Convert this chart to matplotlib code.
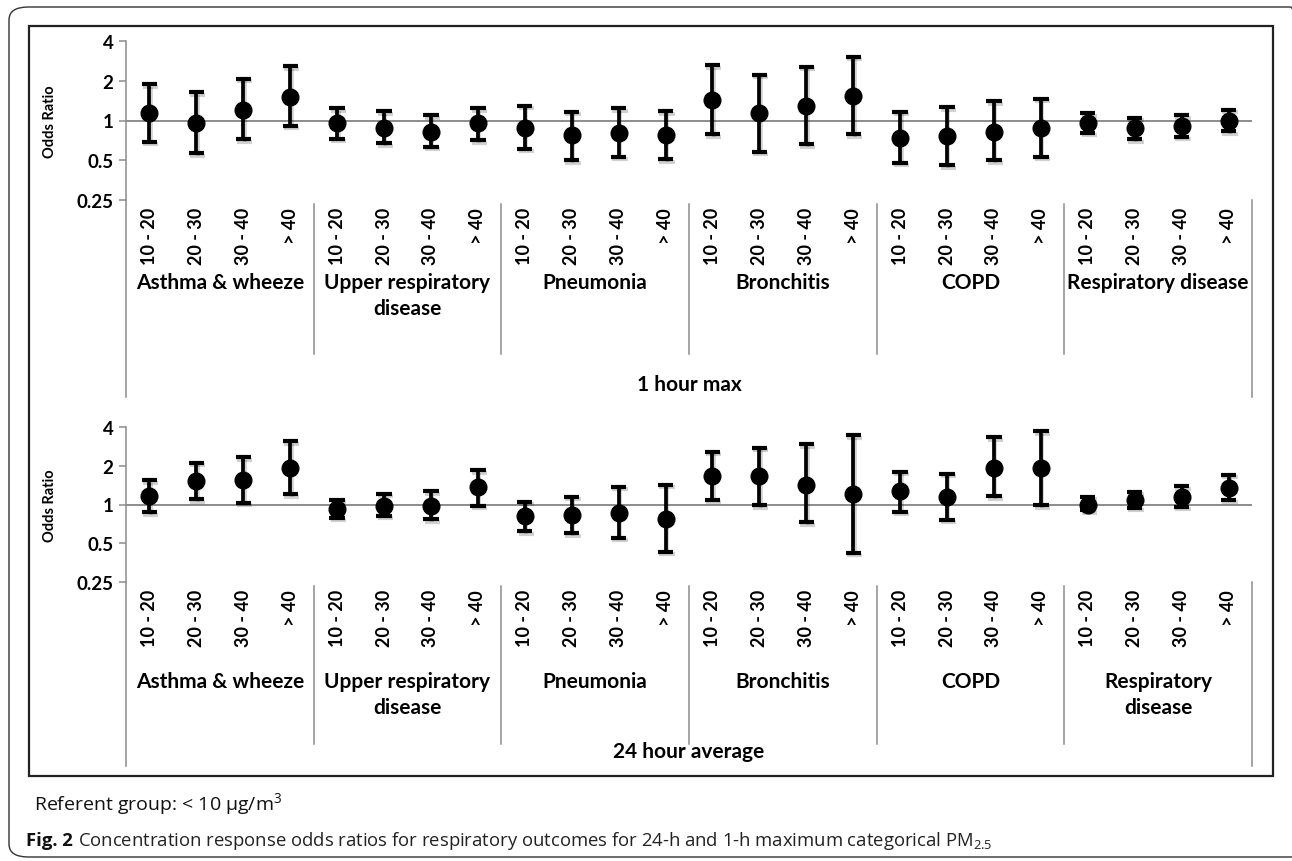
import matplotlib
matplotlib.use("Agg")
import matplotlib.pyplot as plt
import matplotlib.patheffects as pe
import numpy as np
from matplotlib.patches import Rectangle, FancyBboxPatch
from matplotlib.transforms import blended_transform_factory

# categories
outcomes = ["Asthma & wheeze", "Upper respiratory\ndisease", "Pneumonia",
            "Bronchitis", "COPD", "Respiratory disease"]
outcomes_24h = ["Asthma & wheeze", "Upper respiratory\ndisease", "Pneumonia",
                "Bronchitis", "COPD", "Respiratory\ndisease"]
bins = ["10 - 20", "20 - 30", "30 - 40", "> 40"]
yticks = [0.25, 0.5, 1, 2, 4]
ytick_labels = ["0.25", "0.5", "1", "2", "4"]

# 1 hour max: odds ratio, lower CI, upper CI (per outcome, per bin)
or_1h = [1.13, 0.96, 1.21, 1.50,  0.95, 0.88, 0.82, 0.95,  0.88, 0.77, 0.81, 0.78,
         1.42, 1.13, 1.29, 1.54,  0.74, 0.76, 0.82, 0.87,  0.96, 0.87, 0.91, 1.00]
lo_1h = [0.69, 0.565, 0.72, 0.91, 0.73, 0.67, 0.63, 0.71,  0.61, 0.50, 0.53, 0.51,
         0.79, 0.58, 0.66, 0.79,  0.48, 0.46, 0.50, 0.53,  0.81, 0.72, 0.75, 0.83]
hi_1h = [1.88, 1.63, 2.08, 2.58,  1.24, 1.17, 1.10, 1.24,  1.29, 1.16, 1.24, 1.18,
         2.61, 2.22, 2.55, 3.05,  1.16, 1.26, 1.40, 1.46,  1.13, 1.05, 1.10, 1.21]

# 24 hour average
or_24h = [1.16, 1.51, 1.55, 1.91,  0.93, 0.97, 0.97, 1.36,  0.81, 0.83, 0.86, 0.77,
          1.66, 1.66, 1.43, 1.20,  1.28, 1.14, 1.92, 1.92,  1.00, 1.09, 1.15, 1.35]
lo_24h = [0.87, 1.10, 1.03, 1.20,  0.79, 0.82, 0.77, 0.98,  0.62, 0.60, 0.55, 0.43,
          1.09, 0.99, 0.73, 0.42,  0.88, 0.76, 1.16, 0.99,  0.90, 0.94, 0.96, 1.09]
hi_24h = [1.54, 2.11, 2.32, 3.11,  1.09, 1.21, 1.27, 1.85,  1.05, 1.15, 1.37, 1.43,
          2.57, 2.75, 2.93, 3.45,  1.79, 1.73, 3.34, 3.72,  1.15, 1.26, 1.38, 1.71]

W, H = 1292, 862
fig = plt.figure(figsize=(W / 100, H / 100), dpi=100)

FONT = "Lato"
GRAY = "#8c8c8c"


def fx(px):
    return px / W


def fy(py):
    return 1 - py / H


def panel(top, bottom, ors, los, his, groups, title, lab):
    # lab: (tick label top, group label top, separator end, outer line end, title y)
    left, right = 126, 1252
    ax = fig.add_axes([fx(left), fy(bottom), fx(right) - fx(left), fy(top) - fy(bottom)])
    ax.set_yscale("log", base=2)
    ax.set_ylim(0.25, 4)
    ax.set_xlim(0, 24)
    ax.patch.set_alpha(0)
    for s in ["top", "right", "bottom"]:
        ax.spines[s].set_visible(False)
    ax.spines["left"].set_color(GRAY)
    ax.spines["left"].set_linewidth(1.1)
    ax.set_yticks(yticks)
    ax.set_yticklabels(ytick_labels)
    ax.yaxis.set_minor_locator(plt.NullLocator())
    ax.tick_params(axis="y", colors=GRAY, length=5, width=1.1, pad=4)
    for t in ax.get_yticklabels():
        t.set_color("black")
        t.set_fontweight("bold")
        t.set_fontsize(13.5)
        t.set_family(FONT)
    ax.set_xticks([])
    ax.set_ylabel("Odds Ratio", fontsize=10.5, fontweight="bold", family=FONT, labelpad=14)
    ax.axhline(1, color=GRAY, lw=1.4, zorder=1)

    x = np.arange(24) + 0.5
    ors = np.array(ors)
    yerr = [ors - np.array(los), np.array(his) - ors]
    shadow = [pe.SimpleLineShadow(offset=(1.0, -1.8), shadow_color="k", alpha=0.18), pe.Normal()]
    _, caps, bars = ax.errorbar(x, ors, yerr=yerr, fmt="o", color="black", ms=12,
                                elinewidth=2.7, capsize=5.5, capthick=3.0, zorder=3)
    for c in caps:
        c.set_path_effects(shadow)
    for b in bars:
        b.set_path_effects(shadow)

    tr = blended_transform_factory(ax.transData, fig.transFigure)
    tick_top, grp_top, sep_end, line_end, title_y = lab
    for i, xi in enumerate(x):
        ax.text(xi, fy(tick_top), bins[i % 4], rotation=90, ha="center", va="top",
                fontsize=13, fontweight="bold", family=FONT, transform=tr, clip_on=False)
    for g in range(6):
        ax.text(g * 4 + 2, fy(grp_top), groups[g], ha="center", va="top", fontsize=15,
                fontweight="bold", family=FONT, transform=tr, linespacing=1.35)
    for b in range(1, 6):
        ax.plot([b * 4, b * 4], [fy(bottom + 4), fy(sep_end)], color=GRAY, lw=1.1,
                transform=tr, clip_on=False)
    for b in [0, 24]:
        ax.plot([b, b], [fy(bottom), fy(line_end)], color=GRAY, lw=1.1,
                transform=tr, clip_on=False)
    ax.text(12, fy(title_y), title, ha="center", va="center", fontsize=15,
            fontweight="bold", family=FONT, transform=tr)
    return ax


panel(42, 201, or_1h, lo_1h, hi_1h, outcomes, "1 hour max", (208, 273, 355, 398, 385))
panel(428, 583, or_24h, lo_24h, hi_24h, outcomes_24h, "24 hour average", (590, 672, 745, 767, 752))

# chart frame and outer rounded frame
fig.add_artist(Rectangle((fx(29), fy(777)), fx(1273) - fx(29), fy(27) - fy(777),
                         transform=fig.transFigure, fill=False, ec="#222222", lw=1.6))
fig.add_artist(FancyBboxPatch((fx(9), fy(858)), fx(1310) - fx(9), fy(8) - fy(858),
                              boxstyle="round,pad=0,rounding_size=0.015",
                              transform=fig.transFigure, fill=False, ec="#333333", lw=1.0))

fig.text(fx(34), fy(811), r"Referent group: < 10 µg/m$^{\mathregular{3}}$", fontsize=14,
         family="Open Sans", va="baseline", color="#111111")
t1 = fig.text(fx(26), fy(846), "Fig. 2", fontsize=13.3, family="Open Sans", fontweight="bold",
              va="baseline", color="#111111")
fig.canvas.draw()
bb = t1.get_window_extent(fig.canvas.get_renderer())
fig.text((bb.x1 + 5) / W, fy(846),
         r"Concentration response odds ratios for respiratory outcomes for 24-h and 1-h "
         r"maximum categorical PM$_{\mathregular{2.5}}$",
         fontsize=13.3, family="Open Sans", va="baseline", color="#222222")

fig.savefig("out.png", dpi=100)
